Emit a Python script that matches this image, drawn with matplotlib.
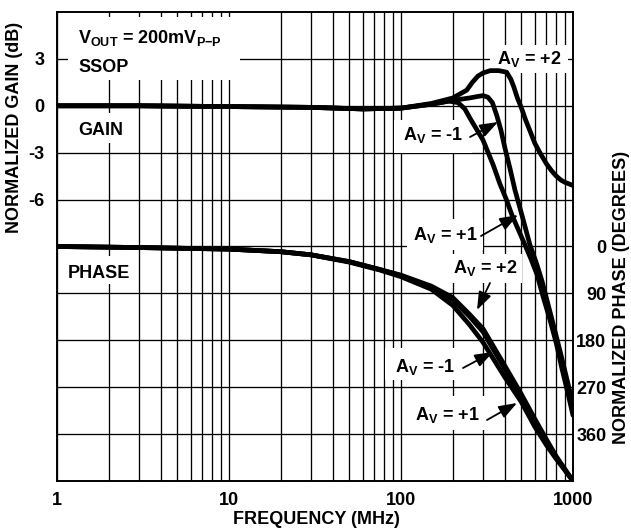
import numpy as np
import matplotlib
matplotlib.use('Agg')
import matplotlib.pyplot as plt
from matplotlib.patches import Rectangle
from matplotlib.ticker import LogLocator, NullFormatter

# ---------------- data ----------------
freq_gain_p2 = [1, 3, 10, 30, 60, 100, 150, 200, 241, 260, 280, 300, 330, 370, 411, 435,
                453, 475, 500, 530, 562, 600, 650, 700, 750, 800, 850, 900, 950, 1000]
gain_p2 = [0, 0, -0.05, -0.1, -0.2, -0.15, 0.15, 0.5, 1.0, 1.5, 1.9, 2.1, 2.25, 2.25, 2.15, 1.7,
           1.2, 0.5, -0.1, -0.9, -1.6, -2.4, -3.1, -3.7, -4.15, -4.5, -4.75, -4.9, -5.0, -5.1]

freq_gain_m1 = [1, 3, 10, 30, 60, 100, 150, 200, 250, 280, 300, 320, 340, 360, 380, 402,
                430, 460, 505, 562, 610, 660, 720, 785, 850, 922, 1000]
gain_m1 = [0, 0, -0.05, -0.1, -0.2, -0.15, 0.1, 0.35, 0.5, 0.6, 0.65, 0.55, 0.2, -0.6, -1.5, -2.7,
           -4.0, -5.4, -7.0, -8.9, -10.0, -11.2, -12.8, -14.4, -15.9, -17.5, -19.1]

freq_gain_p1 = [1, 3, 10, 30, 60, 100, 150, 190, 215, 235, 252, 275, 300, 344, 376, 410, 442,
                480, 526, 570, 618, 670, 735, 800, 862, 930, 1000]
gain_p1 = [0, 0, -0.05, -0.1, -0.2, -0.15, 0.1, 0.3, 0.2, -0.2, -0.8, -1.5, -2.2, -3.8, -5.0, -6.0, -7.0,
           -7.9, -8.9, -9.8, -10.8, -12.2, -13.7, -15.2, -16.8, -18.3, -19.8]

freq_phase = [1, 3, 10, 20, 30, 50, 75, 100, 150, 200, 250, 300, 400, 500, 600, 700, 800, 900, 1000]
phase_p2 = [0, 2, 5, 10, 16, 29, 44, 55, 76, 98, 130, 158, 228, 283, 331, 370, 403, 428, 450]
phase_m1 = [0, 2, 5, 10, 16, 29, 44, 56, 78, 102, 134, 164, 234, 288, 335, 374, 405, 429, 450]
phase_p1 = [0, 2, 5, 10, 16, 30, 45, 58, 82, 113, 150, 184, 250, 298, 346, 381, 408, 430, 450]

x_ticks = [1, 10, 100, 1000]
x_ticklabels = ['1', '10', '100', '1000']
gain_grid = [-21, -18, -15, -12, -9, -6, -3, 0, 3]
gain_labels = ['', '', '', '', '', '-6', '-3', '0', '3']
phase_ticks = [0, 90, 180, 270, 360]
phase_labels = ['0', '90', '180', '270', '360']

# ---------------- style ----------------
plt.rcParams['font.family'] = ['Liberation Sans', 'DejaVu Sans']
plt.rcParams['font.weight'] = 'bold'
plt.rcParams['mathtext.fontset'] = 'custom'
plt.rcParams['mathtext.rm'] = 'Liberation Sans:bold'
plt.rcParams['mathtext.it'] = 'Liberation Sans:bold'
plt.rcParams['mathtext.bf'] = 'Liberation Sans:bold'

FS = 13
W, H = 631, 529
fig = plt.figure(figsize=(W / 100, H / 100), dpi=100)
L, R, T, B = 57, 573, 12, 481
ax = fig.add_axes([L / W, 1 - B / H, (R - L) / W, (B - T) / H])


def P(x, y):
    return ((x - L) / (R - L), (B - y) / (B - T))


ax.set_xscale('log')
ax.set_xlim(1, 1000)
ax.set_ylim(-24, 6)
ax.set_xticks(x_ticks)
ax.set_xticklabels(x_ticklabels, fontsize=FS, fontweight='bold')
ax.xaxis.set_minor_locator(LogLocator(base=10, subs=np.arange(2, 10)))
ax.xaxis.set_minor_formatter(NullFormatter())
ax.set_yticks(gain_grid)
ax.set_yticklabels(gain_labels, fontsize=FS, fontweight='bold')
ax.tick_params(which='both', length=0)
ax.tick_params(axis='x', pad=8)
ax.tick_params(axis='y', pad=9)
ax.set_axisbelow(True)
ax.grid(True, which='both', color='black', lw=0.95)
for s in ax.spines.values():
    s.set_linewidth(1.2)

lw = 3.4
ax.plot(freq_gain_p2, gain_p2, color='black', lw=lw, zorder=4, solid_capstyle='round', solid_joinstyle='round')
ax.plot(freq_gain_m1, gain_m1, color='black', lw=lw, zorder=4, solid_capstyle='round', solid_joinstyle='round')
ax.plot(freq_gain_p1, gain_p1, color='black', lw=lw, zorder=4, solid_capstyle='round', solid_joinstyle='round')

ax2 = ax.twinx()
ax2.set_ylim(450, -450)
ax2.set_yticks(phase_ticks)
ax2.set_yticklabels(phase_labels, fontsize=FS, fontweight='bold')
for t in ax2.get_yticklabels():
    t.set_horizontalalignment('right')
ax2.tick_params(length=0, pad=24)
for s in ax2.spines.values():
    s.set_linewidth(1.2)
ax2.plot(freq_phase, phase_p2, color='black', lw=lw, zorder=4, solid_joinstyle='round')
ax2.plot(freq_phase, phase_m1, color='black', lw=lw, zorder=4, solid_joinstyle='round')
ax2.plot(freq_phase, phase_p1, color='black', lw=lw, zorder=4, solid_joinstyle='round')

# ---------------- white boxes behind text (hide grid) ----------------
def wbox(x0, y0, x1, y1):
    a = P(x0, y1)
    b = P(x1, y0)
    ax.add_patch(Rectangle(a, b[0] - a[0], b[1] - a[1], transform=ax.transAxes,
                           facecolor='white', edgecolor='none', zorder=2))


def txt(x, y, s):
    ax.text(*P(x, y), s, transform=ax.transAxes, fontsize=FS, fontweight='bold',
            ha='left', va='baseline', zorder=5)


def arrow(x0, y0, x1, y1):
    ax.annotate('', xy=P(x1, y1), xycoords='axes fraction', xytext=P(x0, y0),
                textcoords='axes fraction', zorder=5,
                arrowprops=dict(arrowstyle='-|>,head_length=1.1,head_width=0.4',
                                mutation_scale=10, color='black', lw=1.3,
                                shrinkA=0, shrinkB=0))


wbox(68, 17, 240, 80)
txt(78, 43, r'V$_{\mathrm{OUT}}$ = 200mV$_{\mathrm{P{-}P}}$')
txt(78, 72, 'SSOP')

wbox(70, 113, 130, 143)
txt(78, 135, 'GAIN')

wbox(62, 256, 137, 284)
txt(68, 278, 'PHASE')

wbox(490, 45, 568, 73)
txt(497, 64, r'A$_{\mathrm{V}}$ = +2')

wbox(394, 120, 472, 153)
txt(403, 140, r'A$_{\mathrm{V}}$ = -1')
arrow(470, 137, 498, 122)

wbox(407, 219, 483, 250)
txt(413, 240, r'A$_{\mathrm{V}}$ = +1')
arrow(481, 236, 518, 215)

wbox(447, 254, 522, 283)
txt(453, 273, r'A$_{\mathrm{V}}$ = +2')
arrow(490, 283, 477, 310)

wbox(385, 348, 462, 380)
txt(395, 372, r'A$_{\mathrm{V}}$ = -1')
arrow(463, 368, 493, 352)

wbox(406, 396, 488, 430)
txt(415, 420, r'A$_{\mathrm{V}}$ = +1')
arrow(487, 420, 517, 403)

# ---------------- axis titles ----------------
fig.text(15 / W, 1 - 127 / H, 'NORMALIZED GAIN (dB)', rotation=90, fontsize=FS,
         fontweight='bold', ha='center', va='center')
fig.text(622 / W, 1 - 297 / H, 'NORMALIZED PHASE (DEGREES)', rotation=90, fontsize=FS,
         fontweight='bold', ha='center', va='center')
fig.text(316 / W, 1 - 519 / H, 'FREQUENCY (MHz)', fontsize=FS, fontweight='bold',
         ha='center', va='center')

fig.savefig('out.png', dpi=100)
